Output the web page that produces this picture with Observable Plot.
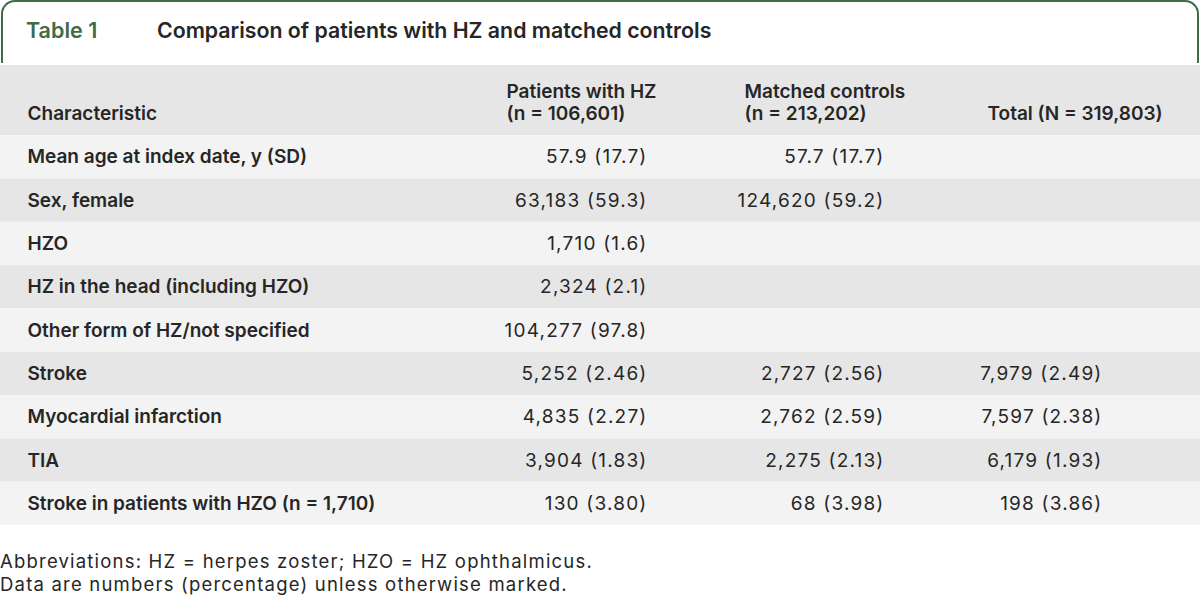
<!DOCTYPE html>
<html>
<head>
<meta charset="utf-8">
<script src="https://cdn.jsdelivr.net/npm/d3@7"></script>
<script src="https://cdn.jsdelivr.net/npm/@observablehq/plot@0.6"></script>
<style>
  html, body { margin: 0; padding: 0; background: #fff; }
  body { width: 1200px; height: 598px; overflow: hidden; font-family: Inter, "Noto Sans", sans-serif; color: #262626; }
  #title {
    box-sizing: border-box; height: 63px; margin: 0 1px 0 1px;
    border: 2px solid #3e6b48; border-bottom: none; border-radius: 14px 14px 0 0;
    position: relative;
  }
  #title .num { position: absolute; left: 23px; top: 15px; font-size: 21.5px; font-weight: 600; color: #3e6b48; }
  #title .txt { position: absolute; left: 154px; top: 15px; font-size: 21.3px; font-weight: 600; color: #262626; }
  #chart { margin-top: 2px; height: 460px; }
  #foot { margin-top: 25px; font-size: 18.5px; line-height: 23px; letter-spacing: 1.2px; padding-left: 0; color: #262626; }
</style>
</head>
<body>
<div id="title"><span class="num">Table 1</span><span class="txt">Comparison of patients with HZ and matched controls</span></div>
<div id="chart"></div>
<div id="foot">Abbreviations: HZ = herpes zoster; HZO = HZ ophthalmicus.<br>Data are numbers (percentage) unless otherwise marked.</div>
<script>
// ---- data ----
const characteristics = [
  "Mean age at index date, y (SD)",
  "Sex, female",
  "HZO",
  "HZ in the head (including HZO)",
  "Other form of HZ/not specified",
  "Stroke",
  "Myocardial infarction",
  "TIA",
  "Stroke in patients with HZO (n = 1,710)"
];
const patientsHZ = ["57.9 (17.7)", "63,183 (59.3)", "1,710 (1.6)", "2,324 (2.1)", "104,277 (97.8)", "5,252 (2.46)", "4,835 (2.27)", "3,904 (1.83)", "130 (3.80)"];
const matchedControls = ["57.7 (17.7)", "124,620 (59.2)", "", "", "", "2,727 (2.56)", "2,762 (2.59)", "2,275 (2.13)", "68 (3.98)"];
const totals = ["", "", "", "", "", "7,979 (2.49)", "7,597 (2.38)", "6,179 (1.93)", "198 (3.86)"];
const headerLine1 = ["", "Patients with HZ", "Matched controls", ""];
const headerLine2 = ["Characteristic", "(n = 106,601)", "(n = 213,202)", "Total (N = 319,803)"];

// ---- layout ----
const layout = {
  labelX: 27,
  valueX: [647, 884, 1102],
  headerX: [27, 506, 744, 987],
  headerTop: -1.62,
  line1Y: -1.02,
  line2Y: -0.51,
  dark: "#e6e6e6",
  light: "#f3f3f3",
  text: "#262626",
  labelSize: 19,
  valueSize: 19
};

const labels = characteristics.map((t, r) => ({text: t, row: r}));
const values = [];
[patientsHZ, matchedControls, totals].forEach((col, c) => col.forEach((v, r) => { if (v) values.push({text: v, row: r, col: c}); }));
const headers = [];
headerLine1.forEach((t, c) => { if (t) headers.push({text: t, y: layout.line1Y, col: c}); });
headerLine2.forEach((t, c) => headers.push({text: t, y: layout.line2Y, col: c}));
const rows = characteristics.map((d, i) => ({i}));

const chart = Plot.plot({
  width: 1200,
  height: 460,
  margin: 0,
  style: {fontFamily: "Inter, 'Noto Sans', sans-serif", background: "transparent"},
  x: {domain: [0, 1200], range: [0, 1200], axis: null},
  y: {domain: [layout.headerTop, characteristics.length], range: [0, 460], axis: null},
  marks: [
    Plot.rect([0], {x1: 0, x2: 1200, y1: layout.headerTop, y2: 0, fill: layout.dark}),
    Plot.rect(rows, {x1: 0, x2: 1200, y1: d => d.i, y2: d => d.i + 1, fill: d => d.i % 2 ? layout.dark : layout.light}),
    Plot.text(headers, {
      x: d => layout.headerX[d.col], y: "y", text: "text",
      textAnchor: "start", lineAnchor: "middle", fontSize: layout.labelSize, fontWeight: 600, fill: layout.text
    }),
    Plot.text(labels, {
      x: () => layout.labelX, y: d => d.row + 0.5, text: "text",
      textAnchor: "start", lineAnchor: "middle", fontSize: layout.labelSize, fontWeight: 600, fill: layout.text
    }),
    Plot.text(values, {
      x: d => layout.valueX[d.col], y: d => d.row + 0.5, text: "text",
      textAnchor: "end", lineAnchor: "middle", fontSize: layout.valueSize, fontWeight: 400, fill: layout.text
    })
  ]
});
const textGroups = chart.querySelectorAll('g[aria-label="text"]');
textGroups[textGroups.length - 1].style.letterSpacing = "1.2px";
document.getElementById("chart").appendChild(chart);
</script>
</body>
</html>
